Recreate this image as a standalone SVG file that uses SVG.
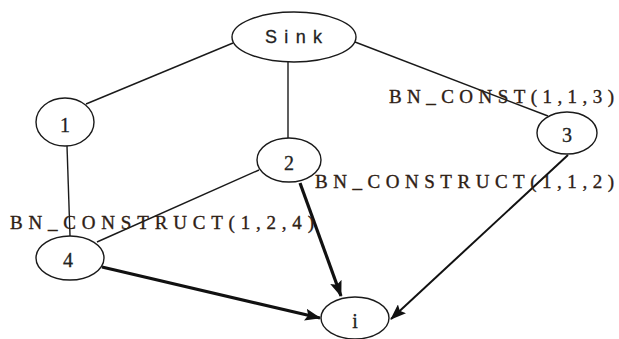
<svg xmlns="http://www.w3.org/2000/svg" width="619" height="339" viewBox="0 0 619 339">
  <style>
    .node ellipse { fill: #ffffff; stroke: #1a1a1a; stroke-width: 1.4; }
    .num { font-family: "Liberation Serif", "Times New Roman", serif; font-size: 20px; fill: #222222; text-anchor: middle; stroke: #222222; stroke-width: 0.3; }
    .sink { font-family: "Liberation Sans", Arial, sans-serif; font-size: 18px; fill: #222222; stroke: #222222; stroke-width: 0.3; }
    .lbl { font-family: "Liberation Serif", "Times New Roman", serif; font-size: 19px; fill: #2e2014; stroke: #2e2014; stroke-width: 0.35; }
    .thin { stroke: #1a1a1a; stroke-width: 1.4; fill: none; }
    .mid { stroke: #111111; stroke-width: 2; fill: none; }
    .bold { stroke: #111111; stroke-width: 3.2; fill: none; }
  </style>
  <defs>
    <!-- barbed arrowhead shared by the directed edges -->
    <marker id="arrow" viewBox="0 0 16 12" refX="15" refY="6" markerWidth="16" markerHeight="12" markerUnits="userSpaceOnUse" orient="auto">
      <path d="M0,0 L16,6 L0,12 L3,6 z" fill="#111111"/>
    </marker>
  </defs>

  <!-- connectors -->
  <g id="edges">
    <line class="thin" x1="233" y1="43" x2="86" y2="104"/>
    <line class="thin" x1="288" y1="62" x2="288" y2="138"/>
    <line class="thin" x1="355" y1="42" x2="548" y2="116"/>
    <line class="thin" x1="67" y1="146" x2="70" y2="236"/>
    <line class="thin" x1="259" y1="170" x2="97" y2="242"/>
    <line class="bold" x1="300" y1="183" x2="341" y2="296" marker-end="url(#arrow)"/>
    <line class="bold" x1="102" y1="267" x2="320" y2="318" marker-end="url(#arrow)"/>
    <line class="mid" x1="568" y1="155" x2="391" y2="319" marker-end="url(#arrow)"/>
  </g>

  <!-- nodes -->
  <g id="sink" class="node">
    <ellipse cx="294" cy="37" rx="62" ry="25"/>
    <text class="sink" x="265" y="43" textLength="57" lengthAdjust="spacing">Sink</text>
  </g>
  <g id="n1" class="node">
    <ellipse cx="65" cy="122" rx="29" ry="24"/>
    <text class="num" x="65" y="132">1</text>
  </g>
  <g id="n2" class="node">
    <ellipse cx="289" cy="160" rx="32" ry="22"/>
    <text class="num" x="289" y="170">2</text>
  </g>
  <g id="n3" class="node">
    <ellipse cx="567" cy="133" rx="30" ry="21"/>
    <text class="num" x="567" y="142">3</text>
  </g>
  <g id="n4" class="node">
    <ellipse cx="70" cy="258" rx="34" ry="22"/>
    <text class="num" x="68" y="267">4</text>
  </g>
  <g id="ni" class="node">
    <ellipse cx="355" cy="318" rx="34" ry="21"/>
    <text class="num" x="355" y="328">i</text>
  </g>

  <!-- edge labels -->
  <g id="labels">
    <text class="lbl" x="389" y="103" textLength="225" lengthAdjust="spacing">BN_CONST(1,1,3)</text>
    <text class="lbl" x="315" y="188" textLength="299" lengthAdjust="spacing">BN_CONSTRUCT(1,1,2)</text>
    <text class="lbl" x="10" y="229" textLength="304" lengthAdjust="spacing">BN_CONSTRUCT(1,2,4)</text>
  </g>
</svg>
